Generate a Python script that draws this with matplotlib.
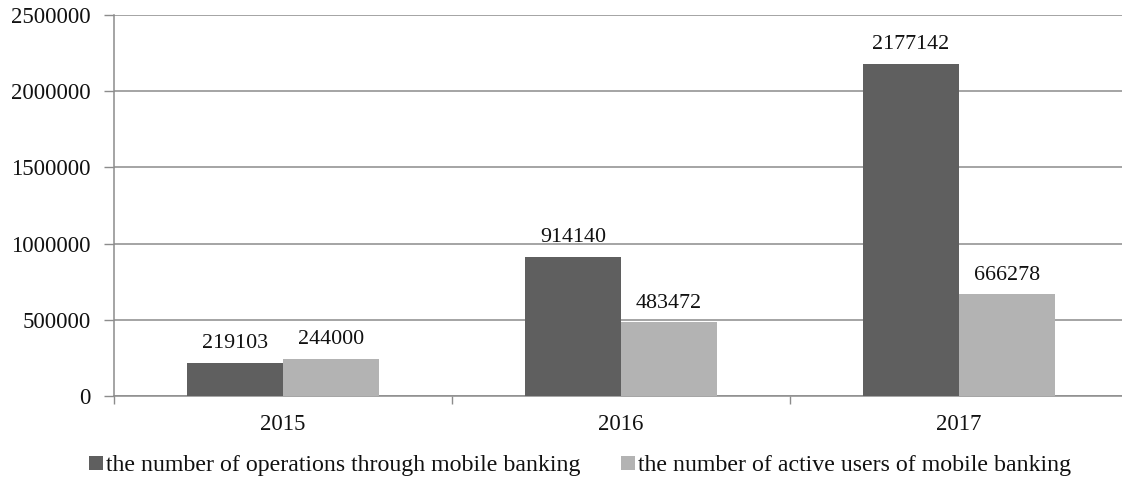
import matplotlib
matplotlib.use("Agg")
import matplotlib.pyplot as plt
import numpy as np

years = ["2015", "2016", "2017"]
operations = [219103, 914140, 2177142]
active_users = [244000, 483472, 666278]
series_names = ["the number of operations through mobile banking",
                "the number of active users of mobile banking"]
yticks = [0, 500000, 1000000, 1500000, 2000000, 2500000]

plt.rcParams['font.family'] = ['Liberation Serif', 'DejaVu Serif']
FS_VAL = 15.8
FS_TICK = 16.5
FS_LEG = 17.2

W, H = 1122, 480
fig = plt.figure(figsize=(W / 100, H / 100), dpi=100)
left, right, top, bottom = 114, 1128, 15, 396
ax = fig.add_axes([left / W, 1 - bottom / H, (right - left) / W, (bottom - top) / H])

dark = "#5f5f5f"
light = "#b3b3b3"
grid_c = "#8c8c8c"

x = np.arange(len(years))
bw = 0.285
b1 = ax.bar(x - bw / 2, operations, bw, color=dark, label=series_names[0], zorder=3)
b2 = ax.bar(x + bw / 2, active_users, bw, color=light, label=series_names[1], zorder=3)

for bars, vals in ((b1, operations), (b2, active_users)):
    for rect, v in zip(bars, vals):
        ax.annotate(str(v), (rect.get_x() + rect.get_width() / 2, v),
                    xytext=(0, 7), textcoords="offset points",
                    ha="center", va="bottom", fontsize=FS_VAL, color="#111111")

ax.set_xlim(-0.5, 2.5)
ax.set_ylim(0, 2500000)
ax.set_yticks(yticks)
ax.set_yticklabels([str(v) for v in yticks], fontsize=FS_TICK, color="#111111")
ax.set_xticks(x)
ax.set_xticklabels(years, fontsize=FS_TICK, color="#111111")
ax.set_xticks([-0.5, 0.5, 1.5, 2.5], minor=True)
ax.tick_params(axis="x", which="major", length=0, pad=13)
ax.tick_params(axis="x", which="minor", length=6, color=grid_c, width=1)
ax.tick_params(axis="y", length=7, color=grid_c, width=1, pad=10)

ax.yaxis.grid(True, color=grid_c, linewidth=1.1, zorder=0)
ax.set_axisbelow(True)
for s in ("top", "right"):
    ax.spines[s].set_visible(False)
for s in ("left", "bottom"):
    ax.spines[s].set_color(grid_c)
    ax.spines[s].set_linewidth(1.1)

leg = fig.legend(handles=[b1, b2], labels=series_names, loc="center",
                 bbox_to_anchor=(580 / W, 1 - 466 / H), ncol=2, frameon=False,
                 fontsize=FS_LEG, handlelength=0.58, handleheight=0.47,
                 handletextpad=0.13, columnspacing=1.7)
for t in leg.get_texts():
    t.set_color("#111111")

fig.savefig("out.png", dpi=100)
